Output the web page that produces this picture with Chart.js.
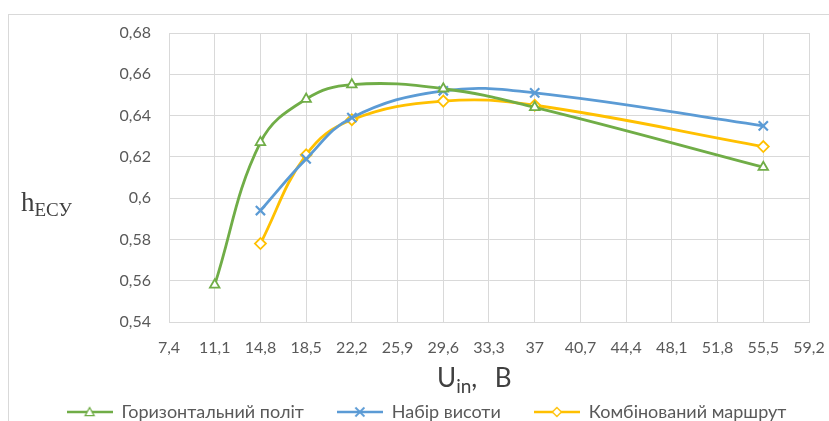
<!DOCTYPE html>
<html>
<head>
<meta charset="utf-8">
<script src="https://cdn.jsdelivr.net/npm/chart.js@4.4.1/dist/chart.umd.min.js"></script>
<style>
  html, body { margin: 0; padding: 0; background: #fff; overflow: hidden; }
  #wrap { position: relative; width: 829px; height: 421px; overflow: hidden; }
  #frame { position: absolute; left: 8px; top: 14px; width: 840px; height: 440px; border: 1px solid #d9d9d9; box-sizing: border-box; }
  #box { position: absolute; left: 0; top: 0; width: 829px; height: 431px; }
  .ytitle { position: absolute; left: 21px; top: 187px; font-family: "Liberation Serif", "DejaVu Serif", serif; font-size: 27px; color: #404040; white-space: nowrap; }
  .ytitle sub { font-size: 19px; vertical-align: -5px; }
  .xtitle { position: absolute; left: 437px; top: 361px; font-family: Lato, "Open Sans", sans-serif; font-size: 26px; color: #404040; white-space: nowrap; word-spacing: 11px; }
  .xtitle sub { font-size: 19px; vertical-align: -6px; word-spacing: 0; }
</style>
</head>
<body>
<div id="wrap">
  <div id="frame"></div>
  <div id="box"><canvas id="c"></canvas></div>
  <div class="ytitle">h<sub>ЕСУ</sub></div>
  <div class="xtitle">U<sub>in</sub>, B</div>
</div>
<script>
// ---- data ----
const xTicks = [7.4, 11.1, 14.8, 18.5, 22.2, 25.9, 29.6, 33.3, 37, 40.7, 44.4, 48.1, 51.8, 55.5, 59.2];
const seriesNames = ["Горизонтальний політ", "Набір висоти", "Комбінований маршрут"];
const greenX = [11.1, 14.8, 18.5, 22.2, 29.6, 37, 55.5];
const greenY = [0.558, 0.627, 0.648, 0.655, 0.653, 0.644, 0.615];
const blueX = [14.8, 18.5, 22.2, 29.6, 37, 55.5];
const blueY = [0.594, 0.619, 0.639, 0.652, 0.651, 0.635];
const yellowX = [14.8, 18.5, 22.2, 29.6, 37, 55.5];
const yellowY = [0.578, 0.621, 0.638, 0.647, 0.645, 0.625];
const yMin = 0.54, yMax = 0.68, yStep = 0.02;

const colors = ["#70AD47", "#5B9BD5", "#FFC000"];
const styles = ["triangle", "crossRot", "rectRot"];

function pts(xs, ys) { return xs.map((x, i) => ({ x: x, y: ys[i] })); }

function legendImage(color, style) {
  const c = document.createElement('canvas');
  c.width = 46; c.height = 16;
  const ctx = c.getContext('2d');
  ctx.strokeStyle = color; ctx.lineWidth = 2.5;
  ctx.beginPath(); ctx.moveTo(0, 8); ctx.lineTo(46, 8); ctx.stroke();
  ctx.lineWidth = 1.3;
  ctx.fillStyle = '#fff';
  const cx = 23, cy = 8, r = 4.5;
  ctx.beginPath();
  if (style === 'triangle') {
    ctx.moveTo(cx, cy - r); ctx.lineTo(cx + r, cy + r * 0.8); ctx.lineTo(cx - r, cy + r * 0.8); ctx.closePath();
    ctx.fill(); ctx.stroke();
  } else if (style === 'rectRot') {
    ctx.moveTo(cx, cy - r); ctx.lineTo(cx + r, cy); ctx.lineTo(cx, cy + r); ctx.lineTo(cx - r, cy); ctx.closePath();
    ctx.fill(); ctx.stroke();
  } else {
    ctx.lineWidth = 1.8;
    ctx.moveTo(cx - r, cy - r); ctx.lineTo(cx + r, cy + r);
    ctx.moveTo(cx + r, cy - r); ctx.lineTo(cx - r, cy + r); ctx.stroke();
  }
  return c;
}

const fmt = v => String(Math.round(v * 100) / 100).replace('.', ',');

const ds = [
  [greenX, greenY], [blueX, blueY], [yellowX, yellowY]
].map((d, i) => ({
  label: seriesNames[i],
  data: pts(d[0], d[1]),
  borderColor: colors[i],
  backgroundColor: '#ffffff',
  borderWidth: 2.8,
  tension: 0.4,
  pointStyle: styles[i],
  pointRadius: styles[i] === 'crossRot' ? 6.5 : 5.5,
  pointBorderWidth: styles[i] === 'crossRot' ? 2.2 : 1.8,
  pointBorderColor: colors[i],
  pointBackgroundColor: '#ffffff',
  legendImg: legendImage(colors[i], styles[i])
}));

new Chart(document.getElementById('c'), {
  type: 'line',
  data: { datasets: ds },
  options: {
    responsive: true,
    maintainAspectRatio: false,
    animation: false,
    layout: { padding: { left: 24, right: 0, top: 33, bottom: 0 } },
    plugins: {
      tooltip: { enabled: false },
      legend: {
        position: 'bottom',
        labels: {
          usePointStyle: true,
          pointStyleWidth: 46,
          padding: 33,
          color: '#595959',
          font: { family: 'Lato, "Open Sans", sans-serif', size: 18 },
          generateLabels: chart => chart.data.datasets.map((d, i) => ({
            text: d.label,
            pointStyle: d.legendImg,
            fontColor: '#595959',
            strokeStyle: d.borderColor,
            fillStyle: '#fff',
            lineWidth: 0,
            datasetIndex: i
          }))
        }
      }
    },
    scales: {
      x: {
        type: 'linear',
        min: xTicks[0],
        max: xTicks[xTicks.length - 1],
        afterBuildTicks: s => { s.ticks = xTicks.map(v => ({ value: v })); },
        afterFit: s => { s.height = 48; s.paddingLeft = 0; s.paddingRight = 20; },
        grid: { color: '#d9d9d9', lineWidth: 1, drawTicks: false },
        border: { color: '#d9d9d9' },
        ticks: {
          callback: v => fmt(v),
          color: '#595959',
          padding: 16,
          maxRotation: 0,
          autoSkip: false,
          font: { family: 'Lato, "Open Sans", sans-serif', size: 16 }
        }
      },
      y: {
        min: yMin,
        max: yMax,
        afterFit: s => { s.width = 145; s.paddingTop = 0; s.paddingBottom = 0; },
        grid: { color: '#d9d9d9', lineWidth: 1, drawTicks: false },
        border: { color: '#d9d9d9' },
        ticks: {
          stepSize: yStep,
          callback: v => fmt(v),
          color: '#595959',
          padding: 18,
          font: { family: 'Lato, "Open Sans", sans-serif', size: 16 }
        }
      }
    }
  }
});
</script>
</body>
</html>
